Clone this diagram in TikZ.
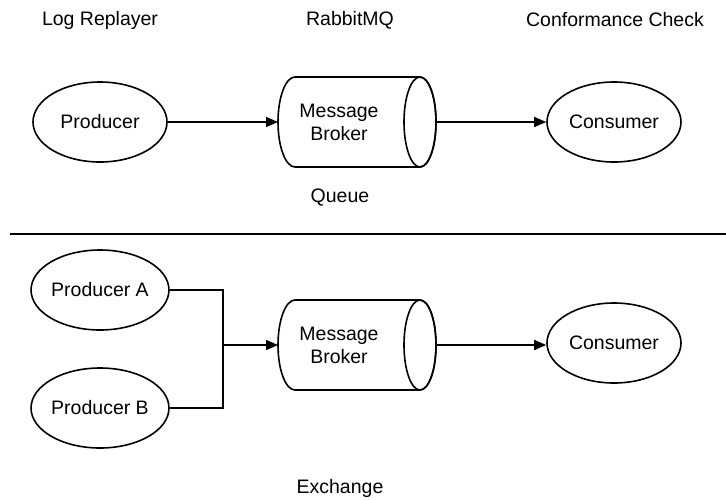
\documentclass[tikz,border=0pt]{standalone}
\usepackage{fontspec}
\setmainfont{Liberation Sans}
\usetikzlibrary{arrows.meta,shapes.geometric}
\begin{document}
\begin{tikzpicture}[x=1pt,y=-1pt,
  every node/.style={font=\fontsize{19.5}{23}\selectfont, align=center},
  proc/.style={draw, ellipse, line width=1.6pt, minimum width=134pt, minimum height=80pt, inner sep=0pt},
  conn/.style={line width=1.6pt},
  arr/.style={conn, -{Triangle[length=12pt,width=10pt]}},
  label/.style={inner sep=0pt}]
\useasboundingbox (0,0) rectangle (726,499);

% cylinder shaped broker: left arc, top/bottom lines, right end ellipse
\newcommand{\brokercyl}[2]{%
  \draw[line width=1.6pt, fill=white]
    (295,#1-45) -- (420,#1-45) arc[start angle=-90, end angle=90, x radius=16, y radius=45]
    -- (295,#1+45) arc[start angle=90, end angle=270, x radius=17, y radius=45] -- cycle;
  \draw[line width=1.6pt] (420,#1) ellipse[x radius=16, y radius=45];
  \coordinate (#2w) at (278,#1);
  \coordinate (#2e) at (436,#1);
  \node[label] (#2t) at (339,#1) {Message\\Broker};
}

% headings
\node[label] (h1) at (100,20) {Log Replayer};
\node[label] (h2) at (350,20) {RabbitMQ};
\node[label] (h3) at (615,20) {Conformance Check};

% queue setup
\node[proc] (p) at (100,122) {Producer};
\brokercyl{122}{q}
\node[proc] (c) at (614,122) {Consumer};
\draw[arr] (p.east) -- (qw);
\draw[arr] (qe) -- (c.west);
\node[label] (ql) at (340,198) {Queue};

% divider
\coordinate (d1) at (10,234);
\coordinate (d2) at (726,234);
\draw[line width=2.2pt] (d1) -- (d2);

% exchange setup
\node[proc] (pa) at (100,290) {Producer A};
\node[proc] (pb) at (100,408) {Producer B};
\brokercyl{345}{x}
\node[proc] (c2) at (614,343) {Consumer};
\coordinate (j) at (223,345);
\draw[conn] (pa.east) -| (j) |- (pb.east);
\draw[arr] (j) -- (xw);
\draw[arr] (xe) -- (c2.west |- xe);
\node[label] (xl) at (340,488) {Exchange};
\end{tikzpicture}
\end{document}
